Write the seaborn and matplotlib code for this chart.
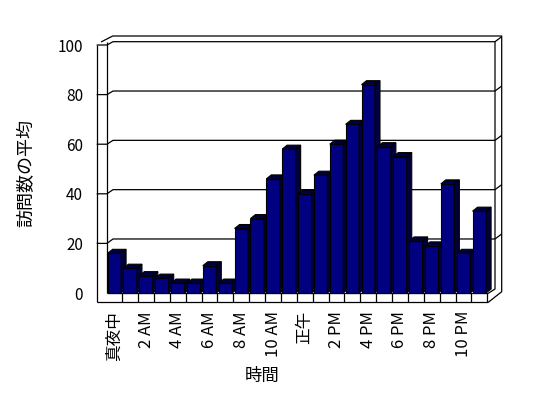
import matplotlib
matplotlib.use('Agg')
import matplotlib.pyplot as plt
from matplotlib.patches import Polygon
import seaborn as sns

# --- データ ---
hours = list(range(24))
visits = [16, 10, 7, 6, 4, 4, 11, 4, 26, 30, 46, 58,
          40, 47.5, 60, 68, 84, 59, 55, 21, 19, 44, 16, 33]
tick_labels = ['真夜中', '2 AM', '4 AM', '6 AM', '8 AM', '10 AM',
               '正午', '2 PM', '4 PM', '6 PM', '8 PM', '10 PM']
y_ticks = [0, 20, 40, 60, 80, 100]

sns.set_theme(style='white', rc={'text.color': 'black', 'xtick.color': 'black',
                                 'ytick.color': 'black', 'axes.labelcolor': 'black'})
plt.rcParams['font.family'] = ['Noto Sans CJK JP', 'DejaVu Sans']

W, H = 548, 398
fig = plt.figure(figsize=(W / 100, H / 100), dpi=100)

# レイアウト (ピクセル)
X0, PITCH = 106.4, 15.87   # 最初のカテゴリの左端, カテゴリ幅
YF0, FS = 293.0, 2.48      # 前面: 0 の位置, 1 単位あたりの px
YB0, BS = 288.3, 2.466     # 奥の壁
X_END = X0 + 24 * PITCH


def fy(v):
    return YF0 - v * FS


def by(v):
    return YB0 - v * BS


# --- 3D 風の枠 (背景) ---
bg = fig.add_axes([0, 0, 1, 1], zorder=0)
bg.set_xlim(0, W)
bg.set_ylim(H, 0)
bg.axis('off')
kw = dict(color='black', lw=0.9, solid_capstyle='butt')

for v in y_ticks[1:]:
    bg.plot([96.7, 107, 113, 495, 501.7], [fy(v), fy(v), by(v), by(v), by(v) - 5], **kw)

# 左の壁
bg.plot([96.7, 96.7], [fy(100), 302.3], **kw)
bg.plot([106.7, 106.7], [by(100), YF0 + 0.3], **kw)
# 上端と右側
bg.plot([101, 112.7, 501.7, 501.7, X_END + 1], [42, 36, 36, 291.7, 302.3], **kw)
bg.plot([495, 495, X_END + 1], [by(100), 289, YF0 + 0.3], **kw)
# 床
bg.plot([96.7, X_END + 1], [302.3, 302.3], **kw)
bg.plot([106.7, X_END + 1], [YF0 + 0.3, YF0 + 0.3], **kw)
for k in range(1, 25):
    xk = X0 + k * PITCH
    bg.plot([xk, xk], [YF0 + 0.3, 302.3], **kw)

# --- 棒グラフ ---
ax = fig.add_axes([X0 / W, 1 - YF0 / H, 24 * PITCH / W, 100 * FS / H], zorder=1)
ax.patch.set_alpha(0)
sns.barplot(x=hours, y=visits, color='#000080', saturation=1, width=0.85,
            edgecolor='black', linewidth=0.8, ax=ax)
ax.set_xlim(-0.5, 23.5)
ax.set_ylim(0, 100)

# 側面と上面
DX, DY = 5, 4
to_disp = ax.transData
to_data = ax.transData.inverted()
for i, bar in enumerate(ax.patches):
    x0, x1 = bar.get_x(), bar.get_x() + bar.get_width()
    h = bar.get_height()
    p0, p1, p2 = to_disp.transform([(x0, h), (x1, h), (x1, 0)])
    b0, b1, b2 = to_data.transform([p0 + (DX, DY), p1 + (DX, DY), p2 + (DX, DY)])
    bar.set_zorder(3 + i)
    bar.set_clip_on(False)
    for poly in ([(x0, h), (x1, h), b1, b0], [(x1, 0), (x1, h), b1, b2]):
        ax.add_patch(Polygon(poly, closed=True, fc='#00003c', ec='black', lw=0.8,
                             zorder=3 + i, clip_on=False))

ax.set_xticks(hours[::2], tick_labels, rotation=90, fontsize=12)
ax.set_yticks(y_ticks, [str(v) for v in y_ticks], fontsize=11)
ax.tick_params(axis='x', length=0, pad=13)
ax.tick_params(axis='y', length=0, pad=16.7)
ax.set_xlabel('')
ax.set_ylabel('')
ax.grid(False)
sns.despine(ax=ax, left=True, bottom=True)

fig.text(26.7 / W, 1 - 173 / H, '訪問数の平均', rotation=90, ha='center', va='center', fontsize=13)
fig.text(261.7 / W, 1 - 376 / H, '時間', ha='center', va='center', fontsize=12.5)

fig.savefig('out.png', dpi=100)
